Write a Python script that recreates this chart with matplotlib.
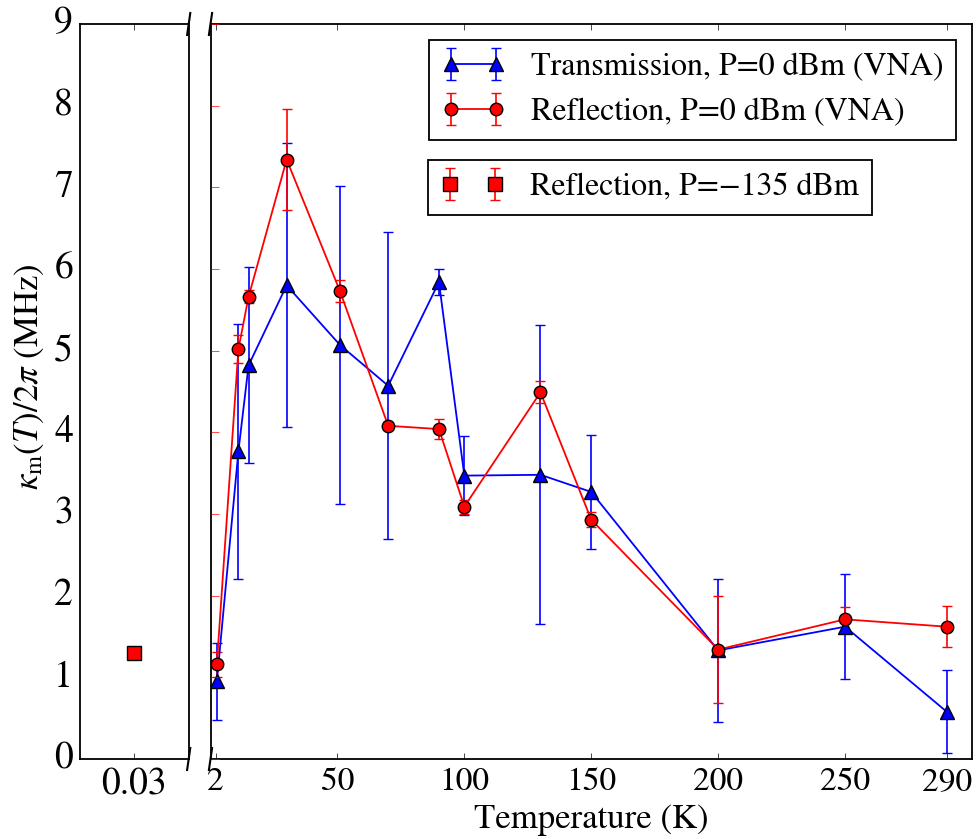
import matplotlib
matplotlib.use("Agg")
import matplotlib.pyplot as plt

plt.style.use("classic")
plt.rcParams["font.family"] = ["STIXGeneral", "DejaVu Serif"]
plt.rcParams["mathtext.fontset"] = "stix"

# Temperatures (K) for the VNA sweeps
temps = [2.5, 11, 15, 30, 51, 70, 90, 100, 130, 150, 200, 250, 290]

# Transmission, P = 0 dBm
kappa_trans = [0.95, 3.77, 4.82, 5.80, 5.07, 4.57, 5.84, 3.47, 3.48, 3.27, 1.33, 1.62, 0.58]
err_trans = [0.47, 1.56, 1.20, 1.74, 1.95, 1.88, 0.16, 0.48, 1.83, 0.70, 0.88, 0.64, 0.51]

# Reflection, P = 0 dBm
kappa_refl = [1.16, 5.02, 5.66, 7.34, 5.73, 4.08, 4.04, 3.09, 4.49, 2.93, 1.34, 1.71, 1.62]
err_refl = [0.15, 0.17, 0.08, 0.62, 0.14, 0.05, 0.12, 0.085, 0.135, 0.09, 0.66, 0.15, 0.25]

# Low-power reflection at base temperature
temp_low = [0.03]
kappa_low = [1.30]
err_low = [0.05]

low_ticks = [0.03]
high_ticks = [2, 50, 100, 150, 200, 250, 290]
y_ticks = list(range(0, 10))

label_trans = "Transmission, P=0 dBm (VNA)"
label_refl = "Reflection, P=0 dBm (VNA)"
label_low = "Reflection, P=\u2212135 dBm"

W, H = 977, 839
fig = plt.figure(figsize=(W / 100, H / 100), dpi=100, facecolor="white")

y0, y1 = 759, 24
ax1 = fig.add_axes([80 / W, (H - y0) / H, (188.7 - 80) / W, (y0 - y1) / H])
ax2 = fig.add_axes([210.5 / W, (H - y0) / H, (972 - 210.5) / W, (y0 - y1) / H])
for ax in (ax1, ax2):
    ax.set_facecolor("white")
    for sp in ax.spines.values():
        sp.set_linewidth(1.3)

err_kw = dict(elinewidth=1.2, capsize=3.3, capthick=1.2, mec="black", mew=1.0, lw=1.3)

h_trans = ax2.errorbar(temps, kappa_trans, yerr=err_trans, color="blue", ecolor="blue",
                       marker="^", ms=10, **err_kw)
h_refl = ax2.errorbar(temps, kappa_refl, yerr=err_refl, color="red", ecolor="red",
                      marker="o", ms=9, **err_kw)
h_low = ax1.errorbar(temp_low, kappa_low, yerr=err_low, color="red", ecolor="red",
                     marker="s", ms=10, ls="none", **err_kw)

# Left panel (mK point)
ax1.set_xlim(0.02, 0.04)
ax1.set_ylim(0, 9)
ax1.set_xticks(low_ticks)
ax1.set_xticklabels(["0.03"])
ax1.set_yticks(y_ticks)
ax1.tick_params(axis="y", left=False, right=False, labelsize=27, pad=5)
ax1.tick_params(axis="x", top=True, bottom=True, direction="in", labelsize=27, pad=6)
ax1.set_ylabel(r"$\kappa_{\rm m}(T)/2\pi$ (MHz)", fontsize=25)
ax1.yaxis.set_label_coords(-0.31, 0.52)

# Right panel (Kelvin range)
ax2.set_xlim(0, 300)
ax2.set_ylim(0, 9)
ax2.set_xticks(high_ticks)
ax2.set_yticks(y_ticks)
ax2.tick_params(axis="y", left=True, right=False, labelleft=False, direction="in",
                color="red", length=6)
ax2.tick_params(axis="x", top=True, bottom=True, direction="in", labelsize=24, pad=6)
ax2.set_xlabel("Temperature (K)", fontsize=25)

# Break marks on the split
def break_marks(ax, xpos, width_px, height_px):
    dx = 1.6 / width_px
    dy = 11.0 / height_px
    kw = dict(transform=ax.transAxes, color="black", lw=1.5, clip_on=False)
    for yb in (0, 1):
        ax.plot([xpos - dx, xpos + dx], [yb - dy, yb + dy], **kw)

break_marks(ax1, 1.0, 188.7 - 80, y0 - y1)
break_marks(ax2, 0.0, 972 - 210.5, y0 - y1)

leg1 = ax2.legend([h_trans, h_refl], [label_trans, label_refl], loc="upper right",
                  fontsize=23, numpoints=2, fancybox=False, borderaxespad=0.5)
leg1.get_frame().set_edgecolor("black")
leg1.get_frame().set_linewidth(1.3)
ax2.add_artist(leg1)

leg2 = ax2.legend([h_low], [label_low], loc="upper left", fontsize=23, numpoints=2,
                  fancybox=False, borderaxespad=0,
                  bbox_to_anchor=((428 - 210.5) / (972 - 210.5), (y0 - 160) / (y0 - y1)))
leg2.get_frame().set_edgecolor("black")
leg2.get_frame().set_linewidth(1.3)

fig.savefig("out.png", dpi=100, facecolor="white")
